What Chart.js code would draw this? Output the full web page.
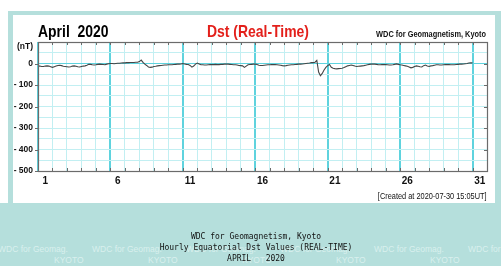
<!DOCTYPE html>
<html>
<head>
<meta charset="utf-8">
<script src="https://cdn.jsdelivr.net/npm/chart.js@4.4.1/dist/chart.umd.min.js"></script>
<style>
  html, body { margin:0; padding:0; background:#ffffff; }
  #page { position:relative; width:501px; height:266px; overflow:hidden; background:#ffffff; }
  .teal { position:absolute; background:#b5dfdc; }
  #panel { position:absolute; left:13px; top:15px; width:482px; height:188px; background:#ffffff; }
  canvas { position:absolute; left:0; top:0; }
  .t { position:absolute; white-space:pre; font-family:"Liberation Sans", Arial, sans-serif; }
  .mono { position:absolute; left:156px; width:200px; text-align:center; white-space:pre;
          font-family:"DejaVu Sans Mono", monospace; font-size:8px; line-height:8px; color:#111; }
  .wm { position:absolute; white-space:pre; font-family:"Liberation Sans", Arial, sans-serif;
        font-size:8.5px; line-height:8.5px; color:#d9f0ee; }
</style>
</head>
<body>
<div id="page">
  <div class="teal" style="left:8px; top:11px; width:493px; height:255px;"></div>
  <div class="teal" style="left:0px; top:203px; width:501px; height:63px;"></div>
  <div id="panel"></div>
  <div id="wmarks"></div>
  <canvas id="c" width="501" height="266"></canvas>
  <div id="texts"></div>
</div>
<script>
// ---------------- data ----------------
const monthTitle = 'April  2020';
const chartTitle = 'Dst (Real-Time)';
const sourceLabel = 'WDC for Geomagnetism, Kyoto';
const createdLabel = '[Created at 2020-07-30 15:05UT]';
const unitLabel = '(nT)';
const footerLines = ['WDC for Geomagnetism, Kyoto', 'Hourly Equatorial Dst Values (REAL-TIME)', 'APRIL   2020'];

// x axis: day labels (placed mid-day), grid every day
const dayLabels = ['1', '6', '11', '16', '21', '26', '31'];
const daysShown = 31;           // axis runs from start of day 1 to end of day 31
const hoursPerDay = 24;
const sampleStepHours = 3;      // Dst values read every 3 hours

// y axis
const yMin = -500, yMax = 100, yGridStep = 50;
const yTickValues = [0, -100, -200, -300, -400, -500];
const yTickLabels = ['0', '- 100', '- 200', '- 300', '- 400', '- 500'];

// Dst values (nT), 3-hourly from 2020-04-01 00UT to 2020-05-01 00UT
const dstValues = [
  -11,-12,-14,-14,-12,-11,-12,-15,
  -18,-15,-12, -9, -8,-10,-13,-14,
  -15,-16,-15,-12,-11,-13,-15,-16,
  -14,-12,-11, -8, -4, -4, -6, -7,
   -6, -4, -3, -4, -5, -6, -3, -1,
    0,  0, -1,  0,  1,  1,  2,  3,
    3,  4,  4,  5,  5,  5,  6,  6,
    9, 16,  5, -3, -9,-16,-18,-17,
  -14,-13,-11,-10, -9, -8, -7, -7,
   -6, -6, -6, -5, -4, -3, -3, -2,
    0, -2, -4, -5, -9,-17,-12, -3,
    2, -2, -6, -6, -7, -7, -6, -5,
   -5, -5, -4, -5, -5, -4, -4, -3,
   -3, -3, -4, -5, -6, -6, -7, -9,
  -10,-11,-18,-12, -6, -5, -4, -3,
   -3, -5, -8, -9, -9, -8, -7, -6,
   -6, -5, -5, -5, -6, -7, -8,-10,
  -11,-10, -8, -7, -6, -6, -5, -4,
   -3, -3, -2, -1,  0,  1,  2,  4,
    4,  6, 14,-40,-57,-46,-30,-18,
  -10, -5,-18,-22,-24,-25,-24,-23,
  -22,-19,-15,-11, -9, -7, -9,-12,
  -14,-13,-12,-11,-10, -8, -6, -4,
   -3, -3, -3, -4, -6, -6, -5, -5,
   -5, -6, -7, -7, -6, -4, -2, -4,
   -6, -7, -9,-11,-13,-16,-20,-18,
  -14,-11,-13,-15,-16,-10, -7,-12,
  -14,-11,-10, -8, -6, -6, -7, -7,
   -6, -5, -5, -5, -6, -6, -6, -5,
   -4, -3, -3, -2, -1,  0,  2,  3,
    3
];

// ---------------- derived ----------------
const points = dstValues.map((v, i) => ({ x: i * sampleStepHours, y: v }));
const xMax = daysShown * hoursPerDay;
const dayGridHours = [];
for (let d = 0; d <= daysShown; d++) dayGridHours.push(d * hoursPerDay);
const labelHours = dayLabels.map(d => (parseInt(d, 10) - 1) * hoursPerDay + hoursPerDay / 2);

const LIGHT = '#c2eff2';
const STRONG = '#5fd3de';
const FRAME = '#6b6b6b';

// frame + inward ticks
const framePlugin = {
  id: 'frame',
  afterDatasetsDraw(chart) {
    const { ctx, chartArea: a } = chart;
    const xs = chart.scales.x, ys = chart.scales.y;
    ctx.save();
    ctx.strokeStyle = FRAME;
    ctx.lineWidth = 1;
    ctx.beginPath();
    dayGridHours.forEach(h => {
      const px = Math.round(xs.getPixelForValue(h)) + 0.5;
      ctx.moveTo(px, a.top); ctx.lineTo(px, a.top + 3);
      ctx.moveTo(px, a.bottom); ctx.lineTo(px, a.bottom - 3);
    });
    yTickValues.forEach(v => {
      const py = Math.round(ys.getPixelForValue(v)) + 0.5;
      ctx.moveTo(a.left - 3, py); ctx.lineTo(a.left, py);
      ctx.moveTo(a.right, py); ctx.lineTo(a.right - 3, py);
    });
    ctx.stroke();
    ctx.lineWidth = 1.2;
    ctx.strokeRect(Math.round(a.left) + 0.5, Math.round(a.top) + 0.5,
                   Math.round(a.right - a.left), Math.round(a.bottom - a.top));
    ctx.restore();
  }
};

new Chart(document.getElementById('c'), {
  type: 'line',
  data: { datasets: [{
    data: points, borderColor: '#454545', borderWidth: 1.1,
    pointRadius: 0, tension: 0, fill: false
  }] },
  options: {
    responsive: false, animation: false, devicePixelRatio: 1,
    parsing: false, normalized: true,
    layout: { padding: { left: 0, right: 14, top: 42, bottom: 75 } },
    plugins: { legend: { display: false }, tooltip: { enabled: false }, title: { display: false } },
    scales: {
      x: {
        type: 'linear', position: 'bottom', min: 0, max: xMax,
        afterBuildTicks: s => { s.ticks = dayGridHours.map(v => ({ value: v })); },
        afterFit: s => { s.height = 0; },
        ticks: { display: false },
        border: { display: false },
        grid: {
          drawTicks: false,
          color: c => (c.tick && c.tick.value % (5 * hoursPerDay) === 0) ? STRONG : LIGHT,
          lineWidth: c => (c.tick && c.tick.value % (5 * hoursPerDay) === 0) ? 2 : 1
        }
      },
      xl: {
        type: 'linear', position: 'bottom', min: 0, max: xMax,
        afterBuildTicks: s => { s.ticks = labelHours.map(v => ({ value: v })); },
        afterFit: s => { s.height = 20; },
        border: { display: false },
        grid: { display: false, drawTicks: false },
        ticks: {
          autoSkip: false, maxRotation: 0, padding: 4, color: '#111',
          font: { family: '"Liberation Sans", Arial, sans-serif', size: 10, weight: 'bold' },
          callback: (v, i) => dayLabels[i]
        }
      },
      y: {
        type: 'linear', min: yMin, max: yMax,
        ticks: {
          stepSize: yGridStep, autoSkip: false, padding: 5, color: '#111',
          font: { family: '"Liberation Sans", Arial, sans-serif', size: 8.5, weight: 'bold' },
          callback: v => { const i = yTickValues.indexOf(v); return i >= 0 ? yTickLabels[i] : ''; }
        },
        afterFit: s => { s.width = 38; },
        border: { display: false },
        grid: {
          drawTicks: false,
          color: c => (c.tick && c.tick.value === 0) ? STRONG : LIGHT,
          lineWidth: 1
        }
      }
    }
  },
  plugins: [framePlugin]
});

// ---------------- html texts ----------------
const texts = document.getElementById('texts');
function addText(str, css) {
  const d = document.createElement('div');
  d.className = 't';
  d.textContent = str;
  Object.assign(d.style, css);
  texts.appendChild(d);
  return d;
}
addText(monthTitle, { left: '38px', top: '22.5px', fontSize: '17px', lineHeight: '17px', fontWeight: 'bold',
  color: '#000', transform: 'scaleX(0.82)', transformOrigin: '0 0' });
addText(chartTitle, { left: '207px', top: '22.5px', fontSize: '17px', lineHeight: '17px', fontWeight: 'bold',
  color: '#e3201b', transform: 'scaleX(0.82)', transformOrigin: '0 0' });
addText(sourceLabel, { right: '15px', top: '29.5px', fontSize: '9px', lineHeight: '9px', fontWeight: 'bold',
  color: '#111', transform: 'scaleX(0.82)', transformOrigin: '100% 0' });
addText(unitLabel, { right: '468px', top: '41.5px', fontSize: '8.5px', lineHeight: '8.5px', fontWeight: 'bold',
  color: '#111' });
addText(createdLabel, { right: '14px', top: '191.5px', fontSize: '9px', lineHeight: '9px', fontWeight: 'normal',
  color: '#111', transform: 'scaleX(0.82)', transformOrigin: '100% 0' });

footerLines.forEach((ln, i) => {
  const d = document.createElement('div');
  d.className = 'mono';
  d.textContent = ln;
  d.style.top = (233 + i * 11) + 'px';
  texts.appendChild(d);
});

// background watermark
const wm = document.getElementById('wmarks');
for (let k = 0; k < 6; k++) {
  const a = document.createElement('div');
  a.className = 'wm'; a.textContent = 'WDC for Geomag.';
  a.style.left = (-2 + k * 94) + 'px'; a.style.top = '245px';
  wm.appendChild(a);
  const b = document.createElement('div');
  b.className = 'wm'; b.textContent = 'KYOTO';
  b.style.left = (54 + k * 94) + 'px'; b.style.top = '256px';
  wm.appendChild(b);
}
</script>
</body>
</html>
